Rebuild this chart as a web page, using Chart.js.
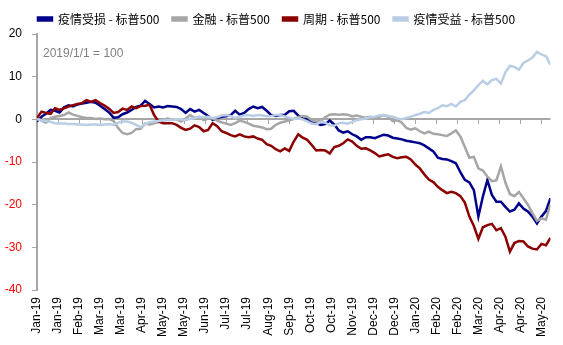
<!DOCTYPE html>
<html>
<head>
<meta charset="utf-8">
<script src="https://cdn.jsdelivr.net/npm/chart.js@4.4.1/dist/chart.umd.min.js"></script>
<style>
  html, body { margin: 0; padding: 0; background: #fff; }
  #chart { display: block; }
</style>
</head>
<body>
<canvas id="chart" width="563" height="345"></canvas>
<script>
// 每3个交易日取一个点（2019/1/1 = 100，相对标普500的超额表现）
const STEP_DAYS = 3;

const seriesNames = ["疫情受损 - 标普500", "金融 - 标普500", "周期 - 标普500", "疫情受益 - 标普500"];

const tickDays = [0, 14, 28, 42, 56, 70, 84, 98, 112, 126, 140, 154, 168, 182, 196, 210, 224, 238, 252, 266, 280, 294, 308, 322, 336];
const tickLabels = ["Jan-19", "Jan-19", "Feb-19", "Mar-19", "Mar-19", "Apr-19", "May-19", "May-19", "Jun-19", "Jul-19",
  "Jul-19", "Aug-19", "Sep-19", "Oct-19", "Oct-19", "Nov-19", "Dec-19", "Dec-19", "Jan-20", "Feb-20",
  "Feb-20", "Mar-20", "Apr-20", "Apr-20", "May-20"];

const damaged = [
  -0.5, 0.6, 1.3, 2.2, 2.0, 1.6, 2.8, 3.3, 3.0, 3.5,
  3.7, 3.9, 4.1, 3.9, 3.2, 2.4, 1.6, 0.4, 0.5, 1.2,
  1.6, 2.2, 2.9, 3.2, 4.3, 3.6, 2.8, 3.0, 2.8, 3.1,
  3.0, 2.9, 2.4, 1.5, 2.4, 1.8, 2.2, 1.5, 0.8, -0.1,
  0.3, 0.6, 0.7, 1.0, 2.0, 1.1, 1.5, 2.4, 3.0, 2.6,
  2.9, 2.0, 1.0, 0.8, 1.0, 1.0, 1.9, 2.0, 0.9, 0.2,
  0.1, -0.6, -0.9, -1.3, -1.1, -0.3, -1.2, -2.6, -3.1, -2.8,
  -3.5, -4.0, -4.8, -4.2, -4.2, -4.4, -4.0, -3.6, -3.8, -4.3,
  -4.5, -4.7, -5.0, -5.2, -5.4, -5.6, -6.1, -6.8, -7.5, -9.0,
  -9.3, -9.4, -9.8, -10.3, -12.4, -14.2, -14.8, -16.6, -22.8, -18.1,
  -14.2, -17.7, -19.3, -19.3, -20.5, -21.6, -21.2, -19.7, -20.9, -21.6,
  -22.8, -24.4, -22.8, -21.5, -18.5
];

const financials = [
  0.2, -0.3, -0.8, 0.3, 0.6, 0.8, 1.0, 1.6, 1.1, 0.8,
  0.5, 0.3, 0.3, 0.1, 0.2, 0.0, 0.1, -0.4, -2.0, -3.2,
  -3.5, -3.2, -2.3, -2.2, -1.0, -1.2, -0.9, -0.7, -0.2, 0.2,
  -0.1, 0.0, -0.5, 0.2, 1.0, 0.3, 0.6, -0.2, 0.2, 0.2,
  -0.3, -0.7, -1.0, -1.3, -0.9, -0.3, -0.6, -1.0, -1.5, -1.7,
  -1.9, -2.3, -2.2, -1.3, -0.8, -0.5, -0.3, 0.1, 0.5, 0.8,
  0.6, -0.2, -0.5, -0.4, 0.5, 1.1, 1.2, 1.1, 1.2, 1.1,
  0.7, 0.9, 0.6, 0.4, 0.6, 0.3, 0.6, 1.0, 0.6, -0.4,
  -0.2, -0.8, -2.0, -2.4, -2.1, -2.8, -3.3, -2.9, -3.4, -3.5,
  -3.7, -3.9, -3.3, -2.6, -4.0, -6.5, -9.0, -8.8, -11.5, -12.0,
  -13.4, -14.5, -14.3, -11.0, -14.8, -17.5, -18.0, -17.0, -18.5, -20.0,
  -22.0, -23.8, -23.2, -23.5, -20.0
];

const cyclicals = [
  0.3, 1.8, 1.5, 1.3, 2.6, 2.2, 2.6, 3.0, 3.3, 3.6,
  3.8, 4.5, 4.1, 4.5, 3.8, 3.2, 2.5, 1.5, 1.7, 2.5,
  2.2, 3.0, 2.6, 3.1, 3.2, 3.4, 1.0, -0.5, -0.9, -0.9,
  -0.9, -1.3, -2.0, -2.5, -2.2, -1.4, -1.8, -2.8, -2.5, -0.9,
  -1.6, -2.8, -3.2, -3.7, -4.0, -3.5, -4.0, -4.2, -4.0, -4.5,
  -4.8, -5.8, -6.2, -7.0, -7.5, -6.8, -7.4, -5.2, -3.5, -4.3,
  -4.8, -6.0, -7.3, -7.2, -7.3, -8.0, -6.5, -6.2, -5.6, -4.7,
  -5.2, -6.2, -6.9, -6.8, -7.3, -7.9, -8.7, -8.4, -8.2, -8.8,
  -9.1, -8.9, -8.8, -9.4, -10.6, -11.5, -12.9, -14.1, -14.7, -15.8,
  -16.6, -17.3, -17.0, -17.3, -18.0, -19.5, -22.8, -25.0, -28.0, -25.3,
  -24.8, -24.5, -26.0, -25.5, -27.5, -31.0, -29.0, -28.5, -28.6, -29.8,
  -30.3, -30.5, -29.2, -29.5, -27.8
];

const beneficiaries = [
  0.0, -0.2, -0.4, -0.6, -0.9, -1.0, -1.0, -1.1, -1.1, -1.2,
  -1.2, -1.3, -1.2, -1.2, -1.3, -1.2, -1.1, -1.3, -0.8, -0.5,
  -0.5, -0.8, -1.3, -1.8, -1.2, -0.7, -0.5, -0.4, -0.3, -0.2,
  -0.1, 0.0, 0.0, -0.2, 0.1, 0.3, 0.6, 0.5, 0.6, 0.3,
  0.5, 0.9, 1.0, 0.8, 0.3, 0.6, 0.9, 1.0, 0.8, 1.0,
  0.9, 0.7, 0.8, 1.0, 1.0, 0.7, 0.4, 0.1, 0.2, 0.0,
  -0.5, -1.0, -1.2, -0.6, -0.8, -1.4, -1.5, -0.9, -0.8, -1.0,
  -0.6, -0.2, 0.0, 0.2, 0.5, 0.6, 0.9, 1.0, 0.8, 0.6,
  0.2, 0.0, 0.3, 0.6, 1.0, 1.3, 1.7, 1.5, 2.2, 2.6,
  3.3, 3.1, 3.6, 3.0, 4.1, 4.5, 5.8, 6.8, 8.0, 9.0,
  8.2, 9.2, 9.5, 8.4, 11.0, 12.5, 12.3, 11.6, 13.2, 13.8,
  14.5, 15.8, 15.2, 14.8, 12.8
];

const seriesColors = ["#00008b", "#a6a6a6", "#8b0000", "#b9cde5"];
const AXIS_GRAY = "#a6a6a6";
const CJK_FONT = "'Noto Sans CJK SC', 'Noto Sans', sans-serif";
const LATIN_FONT = "'Liberation Sans', Arial, sans-serif";

const toPoints = (values) => values.map((v, i) => ({ x: i * STEP_DAYS, y: v }));

// 在0轴处画横轴和刻度线（Excel风格）
const zeroAxis = {
  id: "zeroAxis",
  beforeDatasetsDraw(chart) {
    const { ctx, chartArea, scales: { x, y } } = chart;
    const y0 = Math.round(y.getPixelForValue(0));
    ctx.save();
    ctx.strokeStyle = AXIS_GRAY;
    ctx.lineWidth = 2;
    ctx.beginPath();
    ctx.moveTo(chartArea.left, y0);
    ctx.lineTo(chartArea.right, y0);
    ctx.stroke();
    ctx.lineWidth = 1;
    ctx.beginPath();
    tickDays.forEach((d) => {
      const px = Math.round(x.getPixelForValue(d)) + 0.5;
      ctx.moveTo(px, y0);
      ctx.lineTo(px, y0 + 5);
    });
    ctx.stroke();
    ctx.restore();
  },
  afterDraw(chart) {
    const { ctx, chartArea, scales: { y } } = chart;
    ctx.save();
    ctx.fillStyle = "#7f7f7f";
    ctx.font = "12px " + LATIN_FONT;
    ctx.textBaseline = "middle";
    ctx.fillText("2019/1/1 = 100", chartArea.left + 6, y.getPixelForValue(15.5));
    ctx.restore();
  },
};

const legendHeight = {
  id: "legendHeight",
  beforeInit(chart) {
    const fit = chart.legend.fit;
    chart.legend.fit = function () {
      fit.bind(chart.legend)();
      this.height = 34;
    };
  },
};

const datasets = [damaged, financials, cyclicals, beneficiaries].map((values, i) => ({
  label: seriesNames[i],
  data: toPoints(values),
  borderColor: seriesColors[i],
  backgroundColor: seriesColors[i],
  borderWidth: 2.5,
  pointRadius: 0,
  tension: 0,
  order: 3 - i,
}));

new Chart(document.getElementById("chart"), {
  type: "line",
  data: { datasets },
  plugins: [zeroAxis, legendHeight],
  options: {
    responsive: false,
    animation: false,
    devicePixelRatio: 1,
    layout: { padding: { left: 0, right: 10, top: 0, bottom: 0 } },
    plugins: {
      legend: {
        position: "top",
        labels: {
          boxWidth: 14,
          boxHeight: 3,
          padding: 13,
          color: "#000",
          font: { family: CJK_FONT, size: 12 },
          sort: (a, b) => a.datasetIndex - b.datasetIndex,
        },
      },
      tooltip: { enabled: false },
    },
    scales: {
      x: {
        type: "linear",
        min: 0,
        max: 342,
        afterBuildTicks: (scale) => {
          scale.ticks = tickDays.map((d) => ({ value: d }));
        },
        afterFit: (scale) => {
          scale.height = 55;
        },
        border: { display: false },
        grid: { display: false, drawTicks: false },
        ticks: {
          autoSkip: false,
          maxRotation: 90,
          minRotation: 90,
          padding: 7,
          color: "#000",
          font: { family: LATIN_FONT, size: 12 },
          callback: (value, index) => tickLabels[index],
        },
      },
      y: {
        min: -40,
        max: 20,
        afterFit: (scale) => {
          scale.width = 37;
        },
        border: { color: AXIS_GRAY, width: 2 },
        grid: { drawOnChartArea: false, tickLength: 5, color: AXIS_GRAY, lineWidth: 1 },
        ticks: {
          stepSize: 10,
          padding: 10,
          font: { family: LATIN_FONT, size: 12 },
          color: (ctx) => (ctx.tick.value < 0 ? "#ff0000" : "#000"),
        },
      },
    },
  },
});
</script>
</body>
</html>
